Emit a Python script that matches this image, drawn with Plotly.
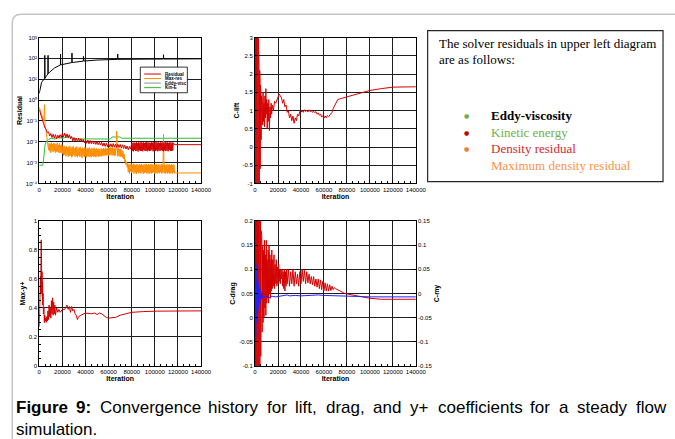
import plotly.graph_objects as go

W, H = 675, 439

# ---------------------------------------------------------------- axes ticks
ITER_TICKS = [0, 20000, 40000, 60000, 80000, 100000, 120000, 140000]
ITER_LABELS = ["0", "20000", "40000", "60000", "80000", "100000", "120000", "140000"]

RES_TICKS = [1e-4, 1e-3, 1e-2, 1e-1, 1e0, 1e1, 1e2, 1e3]
RES_LABELS = ["10\u207b\u2074", "10\u207b\u00b3", "10\u207b\u00b2", "10\u207b\u00b9",
              "10\u2070", "10\u00b9", "10\u00b2", "10\u00b3"]

LIFT_TICKS = [-1, -0.5, 0, 0.5, 1, 1.5, 2, 2.5, 3]
LIFT_LABELS = ["-1", "-0.5", "0", "0.5", "1", "1.5", "2", "2.5", "3"]

YPLUS_TICKS = [0, 0.2, 0.4, 0.6, 0.8, 1]
YPLUS_LABELS = ["0", "0.2", "0.4", "0.6", "0.8", "1"]

DRAG_TICKS = [-0.1, -0.05, 0, 0.05, 0.1, 0.15, 0.2]
DRAG_LABELS = ["-0.1", "-0.05", "0", "0.05", "0.1", "0.15", "0.2"]

MY_TICKS = [-0.15, -0.1, -0.05, 0, 0.05, 0.1, 0.15]
MY_LABELS = ["-0.15", "-0.1", "-0.05", "0", "0.05", "0.1", "0.15"]


def logged(start, step, values):
    """Iterations for a block of values written every `step` iterations."""
    return [start + step * i for i in range(len(values))], list(values)


def pairs(seq):
    return [p[0] for p in seq], [p[1] for p in seq]


# ---------------------------------------------------------------- residual history
res_early = [0.35, 0.22, 0.17, 0.1, 0.075, 0.045, 0.04, 0.027, 0.03, 0.019]
res_mid = [0.025, 0.016, 0.023, 0.015, 0.022, 0.014, 0.021, 0.015, 0.022, 0.016,
           0.025, 0.017, 0.026, 0.016, 0.024, 0.015, 0.022, 0.014, 0.018, 0.011,
           0.016, 0.011, 0.015, 0.01, 0.015, 0.0105, 0.014, 0.01, 0.013, 0.009,
           0.012, 0.0085, 0.012, 0.008, 0.0115, 0.008, 0.011, 0.0078, 0.0105, 0.0075,
           0.0102, 0.0072, 0.0098, 0.007, 0.0095, 0.0062, 0.0088, 0.006, 0.0085, 0.0058,
           0.0082, 0.0057, 0.008, 0.0056, 0.0082, 0.0055, 0.0078, 0.0054, 0.0076, 0.0053,
           0.0075, 0.005, 0.0072, 0.0048, 0.0068, 0.0045, 0.0062, 0.0042, 0.006, 0.0045]
res_late = [0.0085, 0.0037, 0.009, 0.0035, 0.0092, 0.004, 0.0087, 0.0036, 0.0095, 0.0038,
            0.0088, 0.0034, 0.0093, 0.0039, 0.009, 0.0036, 0.0096, 0.0037, 0.0089, 0.0035,
            0.0094, 0.004, 0.0088, 0.0036, 0.0092, 0.0038, 0.0097, 0.0035, 0.009, 0.0039,
            0.0093, 0.0036, 0.0088, 0.0037, 0.0095, 0.0041, 0.009, 0.0035, 0.0094, 0.0038,
            0.0089, 0.0036, 0.0096, 0.0039, 0.0091, 0.0035, 0.0093, 0.0038, 0.0088, 0.0036,
            0.0095, 0.004, 0.009, 0.0037, 0.0094, 0.0035, 0.0089, 0.0039, 0.0096, 0.0036,
            0.0091, 0.0038, 0.0093, 0.0035, 0.0088, 0.004, 0.0095, 0.0037, 0.009, 0.0036,
            0.0092, 0.0038, 0.0089]
res_tail = [(117000, 0.0073), (140000, 0.0073)]

maxres_early = [(0, 0.45), (1000, 0.3), (2000, 0.22), (3000, 0.15), (4000, 0.1),
                (4500, 0.6), (5000, 0.06), (6000, 0.03), (7000, 0.014)]
maxres_mid = [0.009, 0.004, 0.0085, 0.0035, 0.008, 0.003, 0.0092, 0.0038, 0.0078, 0.0032,
              0.0088, 0.0036, 0.0082, 0.003, 0.0075, 0.0034, 0.009, 0.0033, 0.0072, 0.003,
              0.0085, 0.0029, 0.0068, 0.0031, 0.0075, 0.0028,
              0.006, 0.0022, 0.0065, 0.0024, 0.0055, 0.002, 0.006, 0.0023, 0.0052, 0.0019,
              0.0058, 0.0021, 0.0063, 0.0022, 0.005, 0.0018, 0.0056, 0.002, 0.0062, 0.0023,
              0.0048, 0.0019, 0.0055, 0.0021, 0.0059, 0.0018, 0.0047, 0.0022, 0.0054, 0.0019,
              0.0057, 0.002, 0.0046, 0.0017, 0.0052, 0.0021, 0.0049, 0.0019, 0.0055, 0.002,
              0.0045, 0.0018, 0.0051, 0.0021, 0.0048, 0.0019, 0.0053, 0.002, 0.0044, 0.0018,
              0.005, 0.0021, 0.0047, 0.0019, 0.0052, 0.002, 0.0045, 0.0018, 0.0049, 0.0021,
              0.0042, 0.0019, 0.0046, 0.002, 0.0043, 0.0021, 0.0048, 0.002, 0.0044, 0.0022,
              0.005, 0.0021, 0.0046, 0.0023, 0.0052, 0.0022, 0.0047, 0.0024, 0.0053, 0.0022,
              0.0049, 0.0023, 0.0055, 0.0024, 0.005, 0.0022, 0.0054, 0.0023, 0.0048, 0.0021,
              0.0051, 0.0022,
              0.0047, 0.033, 0.0045, 0.002, 0.0049, 0.0021, 0.0044, 0.0019, 0.0046, 0.002,
              0.004, 0.0018, 0.0035, 0.0015, 0.0025, 0.0011, 0.0014, 0.0008, 0.0011, 0.0006]
maxres_late = [0.0009, 0.00035, 0.00085, 0.0003, 0.0008, 0.00038, 0.0009, 0.00032, 0.00078, 0.00036,
               0.00088, 0.0003, 0.00082, 0.00034, 0.0008, 0.00029, 0.00086, 0.00035, 0.00075, 0.00031,
               0.00084, 0.00033, 0.00079, 0.0003, 0.00087, 0.00036, 0.00076, 0.00029, 0.00083, 0.00032,
               0.0008, 0.00035, 0.00088, 0.0003, 0.00077, 0.00033, 0.00085, 0.00029, 0.00079, 0.00034,
               0.00082, 0.0003, 0.00086, 0.00032, 0.00075, 0.00036, 0.00084, 0.00029, 0.0008, 0.00033,
               0.00087, 0.0003, 0.00078, 0.00034, 0.00083, 0.00031, 0.00076, 0.00035, 0.00085, 0.0003,
               0.0008, 0.00033, 0.023, 0.00032, 0.00082, 0.00029, 0.00077, 0.00034, 0.00084, 0.0003,
               0.00079, 0.00033, 0.00086, 0.00029, 0.00076, 0.00032, 0.00083, 0.0003, 0.00078, 0.00034,
               0.00081, 0.00031]
maxres_tail = [(117500, 0.00032), (140000, 0.00032)]

eddy_visc = [(0, 2.1), (850, 4.4), (2000, 7.1), (4000, 10), (4700, 10.8), (4800, 140),
             (4900, 11), (6200, 14.5), (7500, 18), (7600, 140), (7700, 18.5), (9000, 22),
             (13300, 35), (18300, 48.5), (18400, 160), (18500, 49), (19000, 49.5),
             (27400, 62), (28200, 63), (28300, 180), (28400, 63.5), (38100, 73.5),
             (38200, 125), (38300, 74), (38700, 74.5), (50000, 83), (61400, 89),
             (67800, 90), (67900, 160), (68000, 90), (81000, 91), (107400, 93),
             (107500, 150), (107600, 93), (140000, 95)]

kin_energy = [(0, 0.00075), (3000, 0.00075), (4000, 0.002), (5000, 0.007), (6200, 0.0105),
              (8000, 0.013), (10500, 0.0148), (13300, 0.0135), (16100, 0.016), (18000, 0.015),
              (20400, 0.0148), (23000, 0.016), (26000, 0.019), (28800, 0.0148), (33000, 0.0135),
              (45000, 0.0138), (61400, 0.0135), (63000, 0.017), (69800, 0.017), (71300, 0.0148),
              (90000, 0.0148), (140000, 0.0148)]

# ---------------------------------------------------------------- lift coefficient
lift_start = [-0.5, 3.5, -1.5, 3.5, -1.5, 3.4, -1.5, 3.5, -1.4, 3.5, -1.5, 3.3, -1.5, 3.5,
              -1.5, 3.4, -1.5, 3.2, -1.5, 3.0, -1.4]
lift_rest = [(3150, 2.6), (3300, -1.3), (3450, 2.3), (3600, -1.2), (3750, 2.1), (3900, -1.1),
             (4050, 2.1), (4200, -0.9), (4350, 1.9), (4500, -0.6), (4700, 1.7), (4900, -0.2),
             (5100, 1.5), (5300, 0.2), (5600, 1.4), (5900, 0.5), (6200, 1.3), (6600, 0.6),
             (7000, 1.5), (7400, 0.7), (7800, 1.2), (8200, 0.55), (8600, 1.4), (9000, 0.8),
             (9400, 1.6), (9800, 0.9), (10200, 1.3), (10600, 0.5), (11000, 1.2), (11500, 0.7),
             (12000, 1.3), (12500, 0.45), (13000, 1.1), (13500, 0.8), (14000, 1.2), (14500, 0.9),
             (15000, 1.15), (16000, 1.0), (17000, 1.25), (18000, 1.2), (19000, 1.3), (20000, 1.35),
             (21000, 1.45), (22000, 1.4), (23000, 1.35), (24000, 1.2), (25000, 1.3), (26000, 1.1),
             (27000, 1.15), (28000, 0.95), (29000, 1.0), (30000, 0.8), (31000, 0.9), (32000, 0.72),
             (33000, 0.85), (34000, 0.65), (35000, 0.8), (36000, 0.72), (37000, 0.9), (38000, 0.85),
             (39000, 0.98), (40000, 0.95), (41000, 1.0), (42000, 0.95), (43000, 1.02), (44000, 0.97),
             (45000, 1.0), (46000, 0.96), (47000, 1.02), (48000, 0.97), (49000, 1.0), (50000, 0.95),
             (51000, 0.98), (52000, 0.94), (53000, 0.97), (54000, 0.9), (55000, 0.93), (56000, 0.87),
             (57000, 0.9), (58000, 0.82), (59000, 0.86), (60000, 0.79), (61000, 0.85), (62000, 0.8),
             (63000, 0.86), (64000, 0.83), (65000, 0.88), (66000, 0.9), (67000, 0.95), (68000, 1.05),
             (69000, 1.12), (70000, 1.2), (72000, 1.3), (75000, 1.33), (80000, 1.37), (90000, 1.47),
             (100000, 1.55), (110000, 1.6), (120000, 1.64), (140000, 1.65)]

# ---------------------------------------------------------------- maximum y+
yplus = [(0, 0.27), (200, 0.45), (400, 0.35), (600, 0.55), (800, 0.45), (1000, 0.62),
         (1200, 0.5), (1400, 0.68), (1600, 0.55), (1700, 0.87), (1800, 0.6), (2000, 0.7),
         (2200, 0.5), (2400, 0.65), (2600, 0.48), (2800, 0.58), (3000, 0.42), (3300, 0.5),
         (3600, 0.36), (4000, 0.4), (4400, 0.3), (4800, 0.35), (5200, 0.31), (5600, 0.33),
         (6000, 0.3), (6500, 0.34), (7000, 0.31), (7500, 0.38), (8000, 0.32), (8500, 0.42),
         (9000, 0.34), (9500, 0.4), (10000, 0.33), (10500, 0.45), (11000, 0.36), (11500, 0.47),
         (12000, 0.35), (12500, 0.44), (13000, 0.36), (13500, 0.42), (14000, 0.35), (15000, 0.4),
         (16000, 0.37), (17000, 0.39), (18000, 0.37), (19000, 0.38), (20000, 0.39), (22000, 0.39),
         (24000, 0.42), (25000, 0.39), (26000, 0.41), (27000, 0.37), (28000, 0.41), (29000, 0.38),
         (30000, 0.39), (31000, 0.36), (32000, 0.35), (33000, 0.32), (34000, 0.34), (36000, 0.35),
         (38000, 0.36), (40000, 0.365), (45000, 0.36), (48000, 0.365), (50000, 0.355),
         (52000, 0.365), (54000, 0.36), (56000, 0.345), (58000, 0.335), (60000, 0.33),
         (63000, 0.33), (66000, 0.335), (70000, 0.35), (75000, 0.36), (80000, 0.37),
         (90000, 0.375), (100000, 0.378), (140000, 0.38)]

# ---------------------------------------------------------------- drag and moment
drag_start = [0.05, 0.25, -0.15, 0.25, -0.15, 0.25, -0.15, 0.25, -0.15, 0.25, -0.15, 0.25,
              -0.15, 0.25, -0.15, 0.25, -0.15, 0.25, -0.15, 0.25, -0.15, 0.25, -0.15, 0.25,
              -0.15, 0.24, -0.14, 0.23, -0.12]
drag_rest = [(4400, 0.21), (4600, -0.09), (4800, 0.2), (5000, -0.08), (5300, 0.18), (5600, -0.05),
             (5900, 0.17), (6200, -0.03), (6600, 0.15), (7000, -0.01), (7400, 0.14), (7800, 0.0),
             (8200, 0.16), (8600, 0.02), (9000, 0.13), (9400, 0.005), (9800, 0.16), (10200, 0.03),
             (10600, 0.12), (11000, 0.04), (11400, 0.14), (11800, 0.03), (12200, 0.15), (12600, 0.05),
             (13000, 0.13), (13400, 0.04), (13800, 0.12), (14200, 0.055), (14600, 0.14), (15000, 0.06),
             (15500, 0.12), (16000, 0.065), (16500, 0.13), (17000, 0.06), (17500, 0.11), (18000, 0.07),
             (18500, 0.12), (19000, 0.065), (19500, 0.105), (20000, 0.07), (20500, 0.11), (21000, 0.075),
             (21500, 0.1), (22000, 0.07), (22500, 0.1), (23000, 0.08), (23500, 0.1), (24000, 0.065),
             (24500, 0.095), (25000, 0.06), (25500, 0.1), (26000, 0.055), (26500, 0.095), (27000, 0.065),
             (27500, 0.1), (28000, 0.07), (29000, 0.1), (30000, 0.065), (31000, 0.095), (32000, 0.07),
             (33000, 0.1), (34000, 0.065), (35000, 0.095), (36000, 0.07), (37000, 0.09), (38000, 0.065),
             (39000, 0.095), (40000, 0.07), (41000, 0.1), (42000, 0.075), (43000, 0.098), (44000, 0.07),
             (45000, 0.095), (46000, 0.072), (47000, 0.09), (48000, 0.07), (49000, 0.085), (50000, 0.068),
             (51000, 0.085), (52000, 0.065), (53000, 0.08), (54000, 0.063), (55000, 0.08), (56000, 0.06),
             (57000, 0.078), (58000, 0.058), (59000, 0.075), (60000, 0.056), (61000, 0.072), (62000, 0.055),
             (63000, 0.07), (64000, 0.055), (65000, 0.068), (66000, 0.056), (67000, 0.065), (68000, 0.058),
             (69000, 0.062), (70000, 0.06), (72000, 0.058), (75000, 0.054), (78000, 0.05), (82000, 0.048),
             (88000, 0.045), (95000, 0.042), (100000, 0.04), (110000, 0.038), (140000, 0.038)]

moment = [(0, 0.0), (150, 0.075), (300, -0.1), (450, 0.07), (600, -0.09), (750, 0.06),
          (900, -0.08), (1050, 0.05), (1200, -0.07), (1350, 0.045), (1500, -0.06), (1700, 0.035),
          (1900, -0.05), (2100, 0.03), (2300, -0.04), (2500, 0.025), (2700, -0.035), (2900, 0.02),
          (3100, -0.03), (3300, 0.015), (3500, -0.025), (3800, 0.01), (4100, -0.02), (4400, 0.008),
          (4700, -0.015), (5000, 0.004), (5400, -0.012), (5800, 0.0), (6200, -0.01), (7000, -0.004),
          (8000, -0.008), (10000, -0.006), (12000, -0.009), (15000, -0.006), (18000, -0.007),
          (20000, -0.006), (24000, -0.004), (28000, -0.003), (30000, -0.005), (35000, -0.004),
          (40000, -0.005), (45000, -0.004), (50000, -0.004), (55000, -0.003), (60000, -0.004),
          (70000, -0.005), (80000, -0.006), (100000, -0.007), (140000, -0.007)]

# ---------------------------------------------------------------- assemble series
rx1, ry1 = logged(0, 1000, res_early)
rx2, ry2 = logged(10000, 1000, res_mid)
rx3, ry3 = logged(80000, 500, res_late)
rx4, ry4 = pairs(res_tail)
res_x, res_y = rx1 + rx2 + rx3 + rx4, ry1 + ry2 + ry3 + ry4

mx1, my1 = pairs(maxres_early)
mx2, my2 = logged(7500, 500, maxres_mid)
mx3, my3 = logged(76500, 500, maxres_late)
mx4, my4 = pairs(maxres_tail)
maxres_x, maxres_y = mx1 + mx2 + mx3 + mx4, my1 + my2 + my3 + my4

lx1, ly1 = logged(0, 150, lift_start)
lx2, ly2 = pairs(lift_rest)
dx1, dy1 = logged(0, 150, drag_start)
dx2, dy2 = pairs(drag_rest)

RED = "#d40000"
ORANGE = "#ff8c00"
GREEN = "#2ec02e"
BLUE = "#2222ff"
GRID = "#1e1e1e"
FONT = "Liberation Sans"

fig = go.Figure()


def line(x, y, color, xa, ya, width=1):
    fig.add_trace(go.Scatter(x=x, y=y, mode="lines", xaxis=xa, yaxis=ya,
                             line=dict(color=color, width=width), hoverinfo="skip"))


line(*pairs(eddy_visc), "#000000", "x", "y")
line(*pairs(kin_energy), GREEN, "x", "y")
line(maxres_x, maxres_y, ORANGE, "x", "y")
line(res_x, res_y, RED, "x", "y")

line(lx1 + lx2, ly1 + ly2, RED, "x2", "y2")
line(*pairs(yplus), RED, "x3", "y3")
line(dx1 + dx2, dy1 + dy2, RED, "x4", "y4")
line(*pairs(moment), BLUE, "x4", "y5")


def px(v):
    return v / W


def py(v):
    return 1 - v / H


top_dom = [py(183), py(35)]
bot_dom = [py(368), py(221)]
left_dom = [px(38), px(203)]
right_dom = [px(258), px(422)]

tick_font = dict(family=FONT, size=6, color="black")
title_font = dict(family=FONT, size=7, color="black")


def xaxis_style(domain, anchor):
    return dict(domain=domain, anchor=anchor, range=[0, 140000],
                tickvals=ITER_TICKS, ticktext=ITER_LABELS, tickangle=0,
                tickfont=tick_font, ticks="inside", ticklen=3, tickcolor="black",
                minor=dict(dtick=5000, ticks="inside", ticklen=2, tickcolor="black", showgrid=False),
                showgrid=True, gridcolor=GRID, gridwidth=1, zeroline=False,
                showline=True, linecolor="black", linewidth=1, mirror=True,
                title=dict(text="<b>Iteration</b>", font=title_font, standoff=1))


def yaxis_style(domain, anchor, title, rng, vals, labels, **kw):
    d = dict(domain=domain, anchor=anchor, range=rng,
             tickvals=vals, ticktext=labels, tickfont=tick_font,
             ticks="inside", ticklen=3, tickcolor="black",
             showgrid=True, gridcolor=GRID, gridwidth=1, zeroline=False,
             showline=True, linecolor="black", linewidth=1, mirror=True,
             title=dict(text="<b>" + title + "</b>", font=title_font, standoff=2))
    d.update(kw)
    return d


fig.update_layout(
    width=W, height=H, margin=dict(l=0, r=0, t=0, b=0),
    paper_bgcolor="white", plot_bgcolor="white", showlegend=False,
    font=dict(family=FONT, color="black"),
    xaxis=xaxis_style(left_dom, "y"),
    yaxis=yaxis_style(top_dom, "x", "Residual", [-4, 3], RES_TICKS, RES_LABELS, type="log"),
    xaxis2=xaxis_style(right_dom, "y2"),
    yaxis2=yaxis_style(top_dom, "x2", "C-lift", [-1, 3], LIFT_TICKS, LIFT_LABELS),
    xaxis3=xaxis_style(left_dom, "y3"),
    yaxis3=yaxis_style(bot_dom, "x3", "Max-y+", [0, 1], YPLUS_TICKS, YPLUS_LABELS,
                       minor=dict(dtick=0.05, ticks="inside", ticklen=2, tickcolor="black",
                                  showgrid=False)),
    xaxis4=xaxis_style(right_dom, "y4"),
    yaxis4=yaxis_style(bot_dom, "x4", "C-drag", [-0.1, 0.2], DRAG_TICKS, DRAG_LABELS),
    yaxis5=dict(domain=bot_dom, anchor="x4", overlaying="y4", side="right",
                range=[-0.15, 0.15], tickvals=MY_TICKS, ticktext=MY_LABELS,
                tickfont=tick_font, ticks="inside", ticklen=3, tickcolor="black",
                showgrid=False, zeroline=False, showline=True, linecolor="black",
                title=dict(text="<b>C-my</b>", font=title_font, standoff=2)),
)

shapes = []
annotations = []

# outer rounded frame
r = 9
frame_path = (f"M {px(10.5)},{py(460)} L {px(10.5)},{py(11.5 + r)} "
              f"Q {px(10.5)},{py(11.5)} {px(10.5 + r)},{py(11.5)} L {px(700)},{py(11.5)}")
shapes.append(dict(type="path", xref="paper", yref="paper", path=frame_path,
                   line=dict(color="#c4c4c4", width=1.5)))

# legend of the residual panel
shapes.append(dict(type="rect", xref="paper", yref="paper",
                   x0=px(141), x1=px(189), y0=py(91), y1=py(65),
                   line=dict(color="black", width=0.8), fillcolor="white", layer="above"))
legend_items = [("Residual", RED), ("Max-res", ORANGE), ("Eddy-visc", "#909090"), ("Kin-E", GREEN)]
for i, (name, col) in enumerate(legend_items):
    yy = 72 + i * 4.6
    shapes.append(dict(type="line", xref="paper", yref="paper",
                       x0=px(145), x1=px(162), y0=py(yy), y1=py(yy),
                       line=dict(color=col, width=1), layer="above"))
    annotations.append(dict(x=px(164.5), y=py(yy), xref="paper", yref="paper",
                            text="<b>" + name + "</b>", showarrow=False, xanchor="left",
                            yanchor="middle", font=dict(family=FONT, size=4.5, color="black")))

# explanatory text box
shapes.append(dict(type="rect", xref="paper", yref="paper",
                   x0=px(434), x1=px(674), y0=py(181), y1=py(28),
                   line=dict(color="#262626", width=1.2)))
serif = "Liberation Serif"
annotations.append(dict(x=px(444), y=py(41), xref="paper", yref="paper", showarrow=False,
                        xanchor="left", yanchor="middle",
                        text="The solver residuals in upper left diagram",
                        font=dict(family=serif, size=13, color="black")))
annotations.append(dict(x=px(444), y=py(57.5), xref="paper", yref="paper", showarrow=False,
                        xanchor="left", yanchor="middle", text="are as follows:",
                        font=dict(family=serif, size=13, color="black")))
box_lines = [("<b>Eddy-viscosity</b>", "black", "#70ad47", 114),
             ("Kinetic energy", "#6fb24a", "#c00000", 131),
             ("Density residual", "#d42a2a", "#ed7d31", 148),
             ("Maximum density residual", "#f7954a", None, 164.5)]
for text, col, dot, yy in box_lines:
    annotations.append(dict(x=px(497), y=py(yy), xref="paper", yref="paper", showarrow=False,
                            xanchor="left", yanchor="middle", text=text,
                            font=dict(family=serif, size=13, color=col)))
    if dot:
        annotations.append(dict(x=px(473.5), y=py(yy), xref="paper", yref="paper",
                                showarrow=False, xanchor="center", yanchor="middle",
                                text="\u25cf", font=dict(family="DejaVu Sans", size=6, color=dot)))

# caption: first line is justified, so each word sits at its own left edge
caption_words = [("<b>Figure</b>", 12), ("<b>9:</b>", 73.4), ("Convergence", 97.9),
                 ("history", 208.5), ("for", 267.9), ("lift,", 297.2), ("drag,", 328.3),
                 ("and", 376.5), ("y+", 414.3), ("coefficients", 442.1), ("for", 536.5),
                 ("a", 565.8), ("steady", 584.7), ("flow", 644.1)]
for word, xw in caption_words:
    annotations.append(dict(x=px(xw), y=py(410), xref="paper", yref="paper", showarrow=False,
                            xanchor="left", yanchor="middle", text=word,
                            font=dict(family=FONT, size=17, color="black")))
annotations.append(dict(x=px(12), y=py(432), xref="paper", yref="paper", showarrow=False,
                        xanchor="left", yanchor="middle", text="simulation.",
                        font=dict(family=FONT, size=17, color="black")))

fig.update_layout(shapes=shapes, annotations=annotations)
fig.write_html("out.html")
